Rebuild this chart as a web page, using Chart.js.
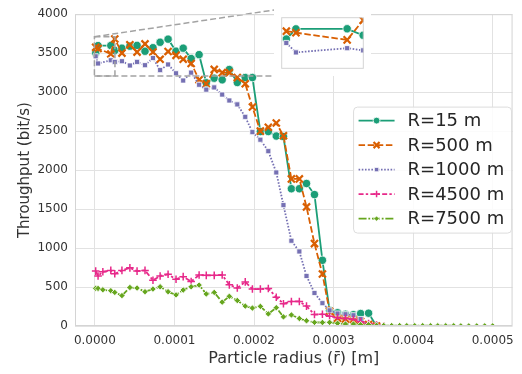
<!DOCTYPE html>
<html>
<head>
<meta charset="utf-8">
<script src="https://cdn.jsdelivr.net/npm/chart.js@4.4.1/dist/chart.umd.min.js"></script>
<style>
    html, body { margin: 0; padding: 0; background: #fff; }
    #wrap { position: relative; width: 522px; height: 374px; }
    #main { position: absolute; left: 0; top: 0; }
    #inset { position: absolute; background: #fff; }
</style>
</head>
<body>
<div id="wrap">
    <canvas id="main" width="522" height="374"></canvas>
    <canvas id="inset"></canvas>
</div>
<script>
// particle radius, in micrometres (axis shows metres)
const radiusUm = [1, 4, 10, 20, 25, 34, 44, 53, 63, 73, 82, 92, 102, 111, 121, 131, 140, 150, 160, 169,
    179, 189, 198, 208, 218, 228, 237, 247, 257, 266, 276, 286, 295, 305, 315, 325, 334, 344, 354, 363,
    373, 383, 392, 402, 412, 422, 431, 441, 451, 460, 470, 480, 490, 500];

const thrR15 = [3498, 3597, null, 3598, 3535, 3564, 3590, 3600, 3525, 3570,
    3640, 3680, 3526, 3564, 3431, 3481, 3120, 3179, 3158, 3290,
    3124, 3187, 3187, 2495, 2495, 2437, 2430, 1761, 1761, 1828,
    1686, 843, 201, 170, 150, 145, 160, 164, 0, null,
    null, null, null, null, null, null, null, null, null, null, null, null, null, null];
const thrR500 = [3575, 3560, null, 3490, 3682, 3501, 3607, 3514, 3619, 3514,
    3422, 3522, 3472, 3422, 3368, 3158, 3107, 3292, 3250, 3250,
    3187, 3107, 2809, 2500, 2550, 2604, 2440, 1887, 1887, 1528,
    1057, 667, 190, 100, 90, 80, 60, 20, 0, null,
    null, null, null, null, null, null, null, null, null, null, null, null, null, null];
const thrR1000 = [3460, 3368, null, 3409, 3388, 3397, 3342, 3388, 3346, 3438,
    3283, 3355, 3242, 3149, 3250, 3095, 3032, 3061, 2969, 2893,
    2843, 2683, 2487, 2390, 2243, 1970, 1551, 1094, 956, 642,
    424, 293, 201, 160, 151, 138, 90, 0, null, null,
    null, null, null, null, null, null, null, null, null, null, null, null, null, null];
const thrR4500 = [704, 642, 696, 713, 670, 713, 746, 704, 713, 587,
    642, 663, 600, 633, 570, 654, 650, 650, 654, 528,
    487, 566, 474, 474, 482, 369, 286, 315, 315, 255,
    147, 151, 126, 107, 97, 84, 54, 31, 13, 0,
    null, null, null, null, null, null, null, null, null, null, null, null, null, null];
const thrR7500 = [484, 482, 465, 453, 431, 390, 494, 487, 440, 474,
    503, 440, 399, 462, 503, 525, 411, 431, 306, 381,
    327, 255, 230, 252, 155, 235, 117, 142, 97, 67,
    47, 45, 47, 35, 25, 25, 17, 17, 8, 6,
    5, 5, 4, 4, 4, 3, 3, 3, 3, 2, 2, 2, 2, 2];

const seriesLabels = ['R=15 m', 'R=500 m', 'R=1000 m', 'R=4500 m', 'R=7500 m'];
const xTicks = [0, 0.0001, 0.0002, 0.0003, 0.0004, 0.0005];
const yTicks = [0, 500, 1000, 1500, 2000, 2500, 3000, 3500, 4000];

// zoomed window shown in the inset
const insetXUm = [-0.6, 25.2];
const insetY = [3208, 3711];
const insetBox = { left: 274, top: 10, width: 97, height: 66 };

const styles = [
    { color: '#1b9e77', dash: [], marker: 'circle', size: 4.2, stroke: false },
    { color: '#d95f02', dash: [6.5, 2.6], marker: 'crossRot', size: 5, stroke: true, bw: 2.2 },
    { color: '#7570b3', dash: [1.6, 1.6], marker: 'rect', size: 3.6, stroke: false },
    { color: '#e7298a', dash: [5, 2.2, 2.4, 2.2], marker: 'cross', size: 3.8, stroke: true, bw: 1.5 },
    { color: '#66a61e', dash: [8, 1.8, 1.8, 1.8], marker: 'rectRot', size: 3.2, stroke: false }
];
const values = [thrR15, thrR500, thrR1000, thrR4500, thrR7500];

Chart.defaults.font.family = "'DejaVu Sans', sans-serif";

const makeDatasets = () => seriesLabels.map((label, k) => {
    const s = styles[k];
    return {
        label,
        data: radiusUm.map((r, i) => ({ x: r * 1e-6, y: values[k][i] })),
        borderColor: s.color,
        borderWidth: 1.8,
        borderDash: s.dash,
        pointStyle: s.marker,
        pointRadius: s.size,
        pointBackgroundColor: s.color,
        pointBorderColor: s.stroke ? s.color : '#ffffff',
        pointBorderWidth: s.stroke ? s.bw : 0.8,
        spanGaps: true,
        tension: 0,
        fill: false,
        order: seriesLabels.length - 1 - k
    };
});

const frame = {
    id: 'frame',
    afterDraw(chart) {
        const { ctx, chartArea: a } = chart;
        ctx.save();
        ctx.strokeStyle = '#d4d4d4';
        ctx.lineWidth = 1;
        ctx.strokeRect(a.left + 0.5, a.top + 0.5, a.right - a.left - 1, a.bottom - a.top - 1);
        ctx.restore();
    }
};

const insetMarker = {
    id: 'insetMarker',
    afterDatasetsDraw(chart) {
        const { ctx, scales: { x, y } } = chart;
        const l = x.getPixelForValue(insetXUm[0] * 1e-6);
        const r = x.getPixelForValue(insetXUm[1] * 1e-6);
        const t = y.getPixelForValue(insetY[1]);
        const b = y.getPixelForValue(insetY[0]);
        ctx.save();
        ctx.strokeStyle = '#a3a3a3';
        ctx.lineWidth = 1.5;
        ctx.setLineDash([6, 3]);
        ctx.strokeRect(l, t, r - l, b - t);
        ctx.beginPath();
        ctx.moveTo(l, t);
        ctx.lineTo(insetBox.left, insetBox.top);
        ctx.moveTo(l, b);
        ctx.lineTo(insetBox.left, insetBox.top + insetBox.height);
        ctx.stroke();
        ctx.restore();
    }
};

const legendBox = {
    id: 'legendBox',
    afterDraw(chart) {
        const { ctx, chartArea: a } = chart;
        const w = 158, h = 126, rowH = 24.5;
        const x0 = a.right - 1 - w;
        const y0 = (a.top + a.bottom) / 2 - h / 2;
        ctx.save();
        ctx.beginPath();
        ctx.roundRect(x0, y0, w, h, 4);
        ctx.fillStyle = 'rgba(255,255,255,0.85)';
        ctx.fill();
        ctx.strokeStyle = '#dcdcdc';
        ctx.lineWidth = 1;
        ctx.stroke();
        chart.data.datasets.forEach((ds, i) => {
            const cy = y0 + 13.5 + i * rowH;
            ctx.beginPath();
            ctx.setLineDash(ds.borderDash);
            ctx.strokeStyle = ds.borderColor;
            ctx.lineWidth = ds.borderWidth;
            ctx.moveTo(x0 + 5, cy);
            ctx.lineTo(x0 + 41, cy);
            ctx.stroke();
            ctx.setLineDash([]);
            ctx.fillStyle = ds.pointBackgroundColor;
            ctx.strokeStyle = ds.pointBorderColor;
            ctx.lineWidth = ds.pointBorderWidth;
            Chart.helpers.drawPoint(ctx, {
                pointStyle: ds.pointStyle,
                radius: ds.pointStyle === 'circle' ? 3.4 : ds.pointRadius * 0.85,
                borderWidth: ds.pointBorderWidth,
                rotation: 0
            }, x0 + 23, cy);
            ctx.fillStyle = '#262626';
            ctx.font = "18px 'DejaVu Sans'";
            ctx.textBaseline = 'middle';
            ctx.fillText(ds.label, x0 + 54, cy + 1);
        });
        ctx.restore();
    }
};

new Chart(document.getElementById('main'), {
    type: 'line',
    data: { datasets: makeDatasets() },
    options: {
        responsive: false,
        animation: false,
        layout: { padding: { top: 8, right: 6, left: 0, bottom: 0 } },
        plugins: { legend: { display: false }, tooltip: { enabled: false } },
        scales: {
            x: {
                type: 'linear',
                min: -0.000025,
                max: 0.000525,
                afterBuildTicks: s => { s.ticks = xTicks.map(v => ({ value: v })); },
                afterFit: s => { s.height = 48; },
                grid: { color: '#e2e2e2', drawTicks: false },
                border: { display: false },
                ticks: { padding: 8, color: '#333', font: { size: 12 }, callback: v => v.toFixed(4) },
                title: {
                    display: true,
                    text: 'Particle radius (r\u0304) [m]',
                    color: '#333',
                    font: { size: 16 },
                    padding: { top: 0, bottom: 6 }
                }
            },
            y: {
                min: 0,
                max: 4000,
                afterBuildTicks: s => { s.ticks = yTicks.map(v => ({ value: v })); },
                afterFit: s => { s.width = 75; },
                grid: { color: '#e2e2e2', drawTicks: false },
                border: { display: false },
                ticks: { padding: 7, color: '#333', font: { size: 12 }, callback: v => String(v) },
                title: {
                    display: true,
                    text: 'Throughput (bit/s)',
                    color: '#333',
                    font: { size: 15 },
                    padding: { top: 16, bottom: 0 }
                }
            }
        }
    },
    plugins: [frame, insetMarker, legendBox]
});

// inset: zoom on the first points
const insetCanvas = document.getElementById('inset');
insetCanvas.width = insetBox.width;
insetCanvas.height = insetBox.height;
insetCanvas.style.left = insetBox.left + 'px';
insetCanvas.style.top = insetBox.top + 'px';

new Chart(insetCanvas, {
    type: 'line',
    data: { datasets: makeDatasets() },
    options: {
        responsive: false,
        animation: false,
        layout: { padding: 0 },
        plugins: { legend: { display: false }, tooltip: { enabled: false } },
        scales: {
            x: { type: 'linear', display: false, min: insetXUm[0] * 1e-6, max: insetXUm[1] * 1e-6 },
            y: { display: false, min: insetY[0], max: insetY[1] }
        }
    },
    plugins: [frame]
});
</script>
</body>
</html>
